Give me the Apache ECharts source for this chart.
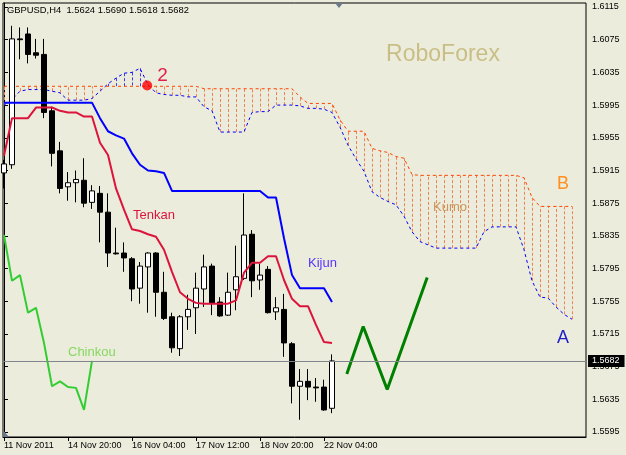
<!DOCTYPE html>
<html><head><meta charset="utf-8">
<script src="https://cdn.jsdelivr.net/npm/echarts@6/dist/echarts.min.js"></script>
<style>html,body{margin:0;padding:0;background:#ECECDC;}#c{width:626px;height:455px;}</style>
</head><body><div id="c"></div>
<script>
const symbol = 'GBPUSD', timeframe = 'H4';
const xTickBars = [0, 8, 16, 24, 32, 40];
const xTickLabels = ['11 Nov 2011', '14 Nov 20:00', '16 Nov 04:00', '17 Nov 12:00', '18 Nov 20:00', '22 Nov 04:00'];
const yTicks = [1.5595, 1.5635, 1.5675, 1.5715, 1.5755, 1.5795, 1.5835, 1.5875, 1.5915, 1.5955, 1.5995, 1.6035, 1.6075, 1.6115];

const opens = [1.5912,1.5922,1.6076,1.6082,1.6059,1.6057,1.5988,1.5939,1.5895,1.5900,1.5903,1.5876,1.5887,1.5864,1.5814,1.5814,1.5807,1.5771,1.5797,1.5814,1.5766,1.5736,1.5697,1.5736,1.5747,1.5770,1.5798,1.5754,1.5738,1.5769,1.5783,1.5837,1.5781,1.5794,1.5742,1.5745,1.5703,1.5651,1.5657,1.5650,1.5650,1.5624];
const highs = [1.5928,1.6092,1.6090,1.6090,1.6076,1.6076,1.5993,1.5950,1.5913,1.5915,1.5930,1.5897,1.5896,1.5887,1.5845,1.5827,1.5809,1.5803,1.5815,1.5815,1.5791,1.5741,1.5738,1.5763,1.5790,1.5812,1.5801,1.5760,1.5790,1.5823,1.5887,1.5842,1.5801,1.5798,1.5760,1.5764,1.5705,1.5672,1.5672,1.5661,1.5659,1.5690];
const lows = [1.5893,1.5917,1.6051,1.6046,1.6052,1.5979,1.5920,1.5887,1.5878,1.5876,1.5870,1.5868,1.5827,1.5797,1.5812,1.5791,1.5755,1.5752,1.5741,1.5736,1.5732,1.5692,1.5688,1.5720,1.5715,1.5748,1.5738,1.5736,1.5737,1.5744,1.5781,1.5760,1.5769,1.5740,1.5732,1.5687,1.5630,1.5610,1.5634,1.5632,1.5621,1.5618];
const closes = [1.5923,1.6076,1.6075,1.6057,1.6056,1.5986,1.5936,1.5893,1.5900,1.5904,1.5875,1.5890,1.5864,1.5814,1.5813,1.5808,1.5770,1.5798,1.5814,1.5766,1.5734,1.5698,1.5736,1.5745,1.5771,1.5797,1.5753,1.5737,1.5766,1.5785,1.5836,1.5780,1.5787,1.5741,1.5747,1.5704,1.5651,1.5657,1.5650,1.5649,1.5622,1.5682];

const tenkan = [1.5933,1.5979,1.5979,1.5979,1.5992,1.5992,1.5992,1.5988,1.5986,1.5986,1.5981,1.5981,1.5949,1.5934,1.5893,1.5867,1.5843,1.5841,1.5837,1.5834,1.5818,1.5791,1.5766,1.5758,1.5753,1.5752,1.5752,1.5752,1.5752,1.5756,1.5790,1.5802,1.5802,1.5810,1.5810,1.5781,1.5758,1.5749,1.5749,1.5726,1.5705,1.5704];
const kijun = [1.5998,1.5998,1.5998,1.5998,1.5998,1.5998,1.5998,1.5998,1.5998,1.5998,1.5998,1.5998,1.5979,1.5963,1.5958,1.5954,1.5936,1.5922,1.5915,1.5914,1.5912,1.5890,1.5890,1.5890,1.5890,1.5890,1.5890,1.5890,1.5890,1.5890,1.5890,1.5890,1.5890,1.5882,1.5882,1.5832,1.5787,1.5771,1.5771,1.5771,1.5771,1.5754];
const spanA = [1.5995,1.6002,1.6012,1.6014,1.6014,1.6014,1.6012,1.6010,1.6001,1.6001,1.6001,1.6003,1.6012,1.6021,1.6028,1.6034,1.6035,1.6040,1.6020,1.6010,1.6008,1.6007,1.6007,1.6005,1.6005,1.5993,1.5988,1.5962,1.5962,1.5962,1.5962,1.5986,1.5987,1.5987,1.5995,1.5995,1.5995,1.5994,1.5991,1.5991,1.5990,1.5986,1.5968,1.5946,1.5929,1.5914,1.5889,1.5882,1.5877,1.5873,1.5859,1.5840,1.5828,1.5824,1.5820,1.5820,1.5820,1.5820,1.5820,1.5820,1.5840,1.5846,1.5846,1.5846,1.5846,1.5818,1.5780,1.5760,1.5759,1.5748,1.5739,1.5733];
const spanB = [1.6018,1.6018,1.6018,1.6018,1.6018,1.6018,1.6018,1.6018,1.6018,1.6018,1.6018,1.6018,1.6018,1.6018,1.6018,1.6018,1.6018,1.6018,1.6018,1.6018,1.6018,1.6018,1.6018,1.6018,1.6018,1.6015,1.6015,1.6015,1.6015,1.6015,1.6015,1.6015,1.6015,1.6015,1.6015,1.6015,1.6015,1.6005,1.5997,1.5997,1.5997,1.5997,1.5977,1.5963,1.5963,1.5963,1.5942,1.5939,1.5937,1.5932,1.5930,1.5910,1.5909,1.5909,1.5909,1.5909,1.5909,1.5909,1.5909,1.5909,1.5909,1.5909,1.5909,1.5909,1.5909,1.5906,1.5882,1.5871,1.5871,1.5871,1.5871,1.5871];
const chinkou = [1.5836,1.5780,1.5787,1.5741,1.5747,1.5704,1.5651,1.5657,1.5650,1.5649,1.5622,1.5682];
const forecastX = [42.85, 44.9, 47.9, 52.9];
const forecastY = [1.5666, 1.5724, 1.5647, 1.5784];
const pointMark = [17.9, 1.6019];

const FONT = '"Liberation Sans", Arial, sans-serif';
const chart = echarts.init(document.getElementById('c'), null, {renderer: 'canvas'});
const last = opens.length - 1;
const titleText = `${symbol},${timeframe}  ${opens[last].toFixed(4)} ${highs[last].toFixed(4)} ${lows[last].toFixed(4)} ${closes[last].toFixed(4)}`;

const candleData = opens.map((o, i) => [i, o, closes[i], lows[i], highs[i]]);
const cloudData = spanA.map((a, i) => [i, a, spanB[i]]);

const txt = (text, x, y, size, fill, align) => ({
  type: 'text', x: x, y: y, silent: true, z: 50,
  style: {text: text, font: size + 'px ' + FONT, fill: fill, align: align || 'left', verticalAlign: 'middle'}
});

chart.setOption({
  animation: false,
  backgroundColor: '#ECECDC',
  title: {text: titleText, left: 7, top: 6, padding: 0, textStyle: {fontSize: 9.4, fontWeight: 'normal', color: '#000', fontFamily: FONT}},
  grid: {left: 3, top: 3, width: 583, height: 434, show: true, borderColor: '#000', borderWidth: 1, backgroundColor: 'transparent'},
  xAxis: {
    type: 'value', min: -0.125, max: 72.75,
    axisLine: {show: true, lineStyle: {color: '#000'}},
    axisTick: {show: true, customValues: xTickBars, length: 4, lineStyle: {color: '#000'}},
    axisLabel: {customValues: xTickBars, align: 'left', margin: 4, fontSize: 9, color: '#000', fontFamily: FONT,
      formatter: v => xTickLabels[xTickBars.indexOf(v)]},
    splitLine: {show: false}
  },
  yAxis: {
    type: 'value', position: 'right', min: 1.55889, max: 1.61199, scale: true,
    axisLine: {show: true, lineStyle: {color: '#000'}},
    axisTick: {show: true, customValues: yTicks, length: 4, lineStyle: {color: '#000'}},
    axisLabel: {customValues: yTicks, margin: 6, fontSize: 9, color: '#000', fontFamily: FONT, formatter: v => v.toFixed(4)},
    splitLine: {show: false}
  },
  graphic: [
    {type: 'polygon', silent: true, z: 60, shape: {points: [[335, 3], [343, 3], [339, 8]]}, style: {fill: '#6A7A8C'}},
    {type: 'polygon', silent: true, z: 60, shape: {points: [[3, 430], [3, 437], [9, 437]]}, style: {fill: '#6A7A8C'}},
    txt('RoboForex', 443, 55, 23, '#C8BE86', 'center'),
    txt('2', 162.5, 76, 19, '#E0204A', 'center'),
    txt('Tenkan', 133, 215, 13, '#DC143C'),
    txt('Kijun', 308, 263, 13, '#5A32FF'),
    txt('Chinkou', 68, 352, 13, '#86D862'),
    txt('Kumo', 433, 207, 13, '#C8965A'),
    txt('B', 563, 184, 18, '#FF9020', 'center'),
    txt('A', 563, 338, 18, '#1E1EC8', 'center')
  ],
  series: [
    {
      type: 'custom', z: 1, silent: true, data: cloudData, encode: {x: 0, y: [1, 2]},
      renderItem: (params, api) => {
        const k = api.value(0), a = api.value(1), b = api.value(2);
        const p1 = api.coord([k, a]), p2 = api.coord([k, b]);
        const x = Math.round(p1[0]) + 0.5;
        return {type: 'line', shape: {x1: x, y1: p1[1], x2: x, y2: p2[1]},
          style: {stroke: a > b ? '#3C3CF0' : '#F08058', lineWidth: 1, lineDash: [3, 2]}};
      }
    },
    {type: 'line', z: 2, silent: true, showSymbol: false, data: spanA.map((v, i) => [i, v]),
      lineStyle: {color: '#0000FF', width: 1, type: [3, 3]}},
    {type: 'line', z: 2, silent: true, showSymbol: false, data: spanB.map((v, i) => [i, v]),
      lineStyle: {color: '#FF4500', width: 1, type: [3, 3]}},
    {
      type: 'candlestick', z: 3, silent: true, barWidth: 5, data: candleData, encode: {x: 0, y: [1, 2, 3, 4]},
      itemStyle: {color: '#FFFFFF', color0: '#000000', borderColor: '#000000', borderColor0: '#000000', borderWidth: 1},
      markLine: {
        silent: true, symbol: ['none', 'none'], animation: false, precision: 4,
        lineStyle: {color: '#80868C', width: 1, type: 'solid'},
        label: {show: true, position: 'end', distance: 2, formatter: p => Number(p.value).toFixed(4),
          backgroundColor: '#000', color: '#fff', fontSize: 9, fontFamily: FONT, padding: [2, 5, 1, 4]},
        data: [{yAxis: closes[last]}]
      }
    },
    {type: 'line', z: 4, silent: true, showSymbol: false, data: tenkan.map((v, i) => [i, v]),
      lineStyle: {color: '#DC143C', width: 2}},
    {type: 'line', z: 4, silent: true, showSymbol: false, data: kijun.map((v, i) => [i, v]),
      lineStyle: {color: '#0000FF', width: 2}},
    {type: 'line', z: 4, silent: true, showSymbol: false, data: chinkou.map((v, i) => [i, v]),
      lineStyle: {color: '#32CD32', width: 2}},
    {type: 'line', z: 4, silent: true, showSymbol: false, data: forecastX.map((x, i) => [x, forecastY[i]]),
      lineStyle: {color: '#008000', width: 3}},
    {type: 'scatter', z: 5, silent: true, symbolSize: 10, data: [pointMark], itemStyle: {color: '#FF0000'}}
  ]
});
</script></body></html>
